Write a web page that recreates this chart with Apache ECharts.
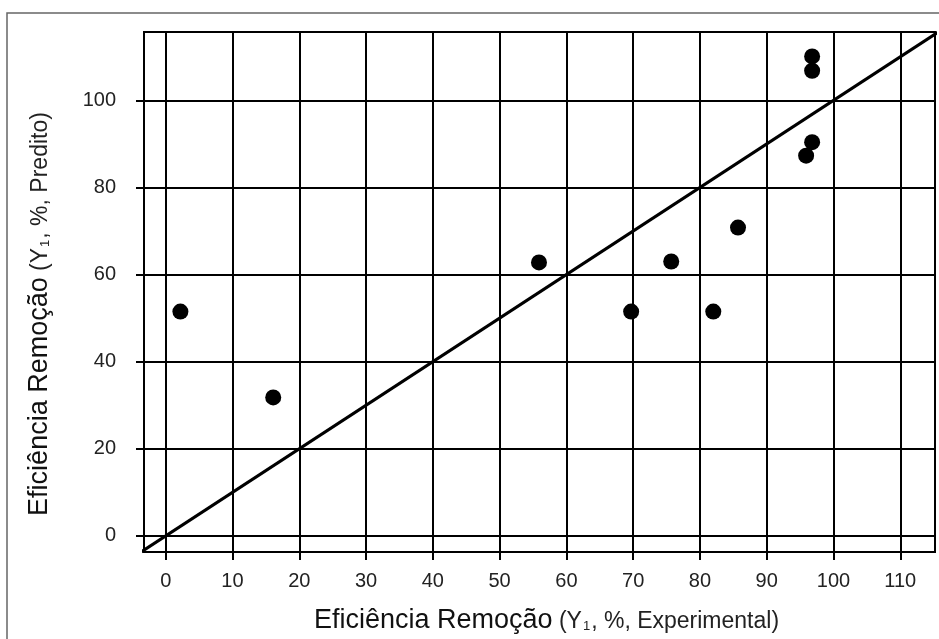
<!DOCTYPE html>
<html>
<head>
<meta charset="utf-8">
<script src="https://cdn.jsdelivr.net/npm/echarts@6/dist/echarts.min.js"></script>
<style>
  html, body { margin: 0; padding: 0; background: #fff; }
  #container { width: 939px; height: 639px; }
</style>
</head>
<body>
<div id="container"></div>
<script>
// valores
var experimental = [2.2, 16.1, 55.9, 69.7, 75.7, 82.0, 85.7, 95.9, 96.8, 96.8, 96.8];
var predito = [51.5, 31.8, 62.8, 51.5, 63.0, 51.5, 70.8, 87.3, 90.4, 106.8, 110.1];
var xTicks = [0, 10, 20, 30, 40, 50, 60, 70, 80, 90, 100, 110];
var yTicks = [0, 20, 40, 60, 80, 100];
var linhaIdeal = [-10, 130];

var pontos = experimental.map(function(v, i) { return [v, predito[i]]; });

var dom = document.getElementById('container');
var myChart = echarts.init(dom);

var fonte = 'Liberation Sans, Arial, sans-serif';
var richNome = {
    a: { fontSize: 27, fontFamily: fonte, color: '#111', verticalAlign: 'bottom', lineHeight: 32 },
    b: { fontSize: 23, fontFamily: fonte, color: '#222', verticalAlign: 'bottom', lineHeight: 32, padding: [0, 0, 1, 0] },
    s: { fontSize: 13, fontFamily: fonte, color: '#222', verticalAlign: 'bottom', lineHeight: 32, padding: [0, 1, 1, 1] }
};

var option = {
    backgroundColor: '#fff',
    animation: false,
    graphic: [{
        type: 'rect',
        shape: { x: 7, y: 13, width: 1200, height: 1200 },
        style: { fill: 'none', stroke: '#666', lineWidth: 1.5 },
        silent: true
    }],
    grid: {
        left: 144,
        right: 4,
        top: 32,
        bottom: 84,
        show: true,
        borderColor: '#000',
        borderWidth: 2
    },
    xAxis: {
        type: 'value',
        min: -3.25,
        max: 115.2,
        name: '{a|Eficiência Remoção}{b| (Y}{s|1}{b|, %, Experimental)}',
        nameLocation: 'middle',
        nameGap: 50,
        nameTextStyle: { rich: richNome, padding: [0, 0, 0, 14] },
        axisLine: { show: true, onZero: false, lineStyle: { color: '#000', width: 2 } },
        axisTick: { show: true, length: 8, customValues: xTicks, lineStyle: { color: '#000', width: 2 } },
        axisLabel: { customValues: xTicks, margin: 19, fontSize: 20, fontFamily: fonte, color: '#222' },
        splitLine: { show: true, lineStyle: { color: '#000', width: 2 } }
    },
    yAxis: {
        type: 'value',
        min: -3.7,
        max: 115.7,
        name: '{a|Eficiência Remoção}{b| (Y}{s|1}{b|, %, Predito)}',
        nameLocation: 'middle',
        nameGap: 91,
        nameTextStyle: { rich: richNome, padding: [0, 44, 0, 0] },
        axisLine: { show: true, onZero: false, lineStyle: { color: '#000', width: 2 } },
        axisTick: { show: true, length: 8, customValues: yTicks, lineStyle: { color: '#000', width: 2 } },
        axisLabel: { customValues: yTicks, margin: 28, fontSize: 20, fontFamily: fonte, color: '#222' },
        splitLine: { show: true, lineStyle: { color: '#000', width: 2 } }
    },
    series: [{
        type: 'line',
        data: linhaIdeal.map(function(v) { return [v, v]; }),
        showSymbol: false,
        symbol: 'none',
        clip: true,
        lineStyle: { color: '#000', width: 3 },
        z: 3
    }, {
        type: 'scatter',
        data: pontos,
        symbol: 'circle',
        symbolSize: 16,
        itemStyle: { color: '#000', opacity: 1 },
        z: 4
    }]
};

myChart.setOption(option);
</script>
</body>
</html>
